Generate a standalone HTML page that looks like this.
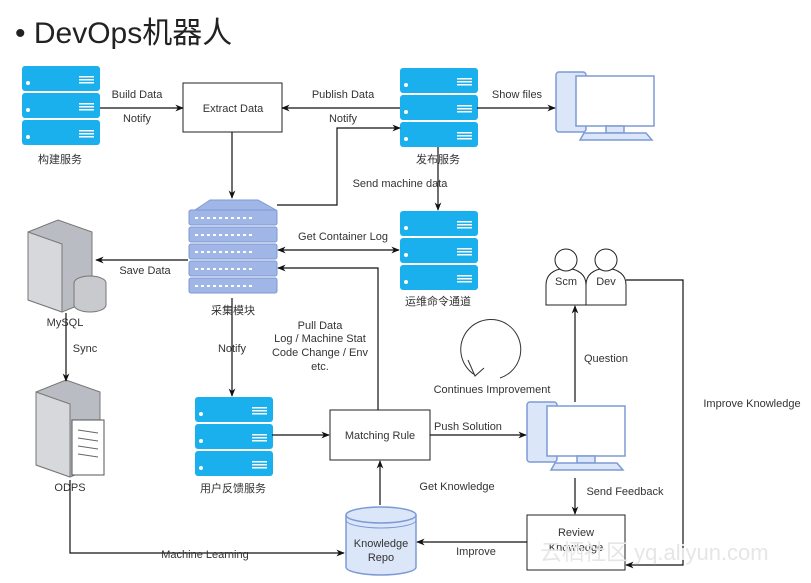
<!DOCTYPE html>
<html><head><meta charset="utf-8"><style>
body{margin:0;background:#fff;width:811px;height:578px;overflow:hidden}
svg text{font-family:"Liberation Sans","Noto Sans CJK SC",sans-serif;font-size:11px;fill:#333}
</style></head><body>
<svg width="811" height="578" viewBox="0 0 811 578" xmlns="http://www.w3.org/2000/svg">
<defs>
<marker id="a" viewBox="0 0 10 10" refX="9" refY="5" markerWidth="7" markerHeight="7" orient="auto-start-reverse"><path d="M0,1 L10,5 L0,9 L3,5z" fill="#111"/></marker>
<g id="srv">
 <rect x="0" y="0" width="78" height="25" rx="3" fill="#1ab0ee"/>
 <rect x="0" y="27" width="78" height="25" rx="3" fill="#1ab0ee"/>
 <rect x="0" y="54" width="78" height="25" rx="3" fill="#1ab0ee"/>
 <g fill="#fff"><circle cx="6" cy="17" r="2"/><circle cx="6" cy="44" r="2"/><circle cx="6" cy="71" r="2"/>
 <rect x="57" y="10" width="15" height="1.5"/><rect x="57" y="13" width="15" height="1.5"/><rect x="57" y="16" width="15" height="1.5"/>
 <rect x="57" y="37" width="15" height="1.5"/><rect x="57" y="40" width="15" height="1.5"/><rect x="57" y="43" width="15" height="1.5"/>
 <rect x="57" y="64" width="15" height="1.5"/><rect x="57" y="67" width="15" height="1.5"/><rect x="57" y="70" width="15" height="1.5"/></g>
</g>
<g id="pc" fill="#dbe6f8" stroke="#7d9ad6" stroke-width="1.5">
 <rect x="0" y="0" width="30" height="60" rx="3"/>
 <rect x="20" y="4" width="78" height="50" fill="#fff"/>
 <rect x="50" y="54" width="18" height="7"/>
 <path d="M28,61 L90,61 L96,68 L24,68z"/>
</g>
</defs>
<text x="15" y="43" style="font-size:30px;fill:#222">• DevOps机器人</text>

<use href="#srv" x="22" y="66"/>
<text x="60" y="163" text-anchor="middle">构建服务</text>
<use href="#srv" x="400" y="68"/>
<text x="438" y="163" text-anchor="middle">发布服务</text>
<use href="#srv" x="400" y="211"/>
<text x="438" y="305" text-anchor="middle">运维命令通道</text>
<use href="#srv" x="195" y="397"/>
<text x="233" y="492" text-anchor="middle">用户反馈服务</text>

<use href="#pc" x="556" y="72"/>
<use href="#pc" x="527" y="402"/>

<!-- rack -->
<g>
<path d="M195,210 L210,200 L258,200 L276,210z" fill="#9fb6e6" stroke="#7d9ad6"/>
<g fill="#9fb6e6" stroke="#7d9ad6">
<rect x="189" y="210" width="88" height="15" rx="2"/><rect x="189" y="227" width="88" height="15" rx="2"/>
<rect x="189" y="244" width="88" height="15" rx="2"/><rect x="189" y="261" width="88" height="15" rx="2"/>
<rect x="189" y="278" width="88" height="15" rx="2"/></g>
<g stroke="#fff" stroke-width="2" stroke-dasharray="3,3"><line x1="195" y1="218" x2="252" y2="218"/><line x1="195" y1="235" x2="252" y2="235"/><line x1="195" y1="252" x2="252" y2="252"/><line x1="195" y1="269" x2="252" y2="269"/><line x1="195" y1="286" x2="252" y2="286"/></g>
</g>
<text x="233" y="314" text-anchor="middle">采集模块</text>

<!-- MySQL -->
<path d="M28,232 L58,220 L92,232 L92,300 L62,312 L28,300z" fill="#b9bcc2" stroke="#777"/>
<path d="M28,232 L62,244 L62,312 L28,300z" fill="#d6d8dc" stroke="#777"/>
<ellipse cx="90" cy="283" rx="16" ry="7" fill="#c8cace" stroke="#777"/>
<path d="M74,283 L74,305 A16,7 0 0 0 106,305 L106,283" fill="#c8cace" stroke="#777"/>
<text x="65" y="326" text-anchor="middle">MySQL</text>
<!-- ODPS -->
<path d="M36,392 L66,380 L100,392 L100,465 L70,477 L36,465z" fill="#b9bcc2" stroke="#777"/>
<path d="M36,392 L70,404 L70,477 L36,465z" fill="#d6d8dc" stroke="#777"/>
<rect x="72" y="420" width="32" height="55" fill="#fff" stroke="#555"/>
<g stroke="#666"><line x1="78" y1="430" x2="98" y2="433"/><line x1="78" y1="438" x2="98" y2="441"/><line x1="78" y1="446" x2="98" y2="449"/><line x1="78" y1="454" x2="98" y2="457"/></g>
<text x="70" y="491" text-anchor="middle">ODPS</text>

<!-- boxes -->
<rect x="183" y="83" width="99" height="49" fill="#fff" stroke="#222"/>
<text x="233" y="112" text-anchor="middle">Extract Data</text>
<rect x="330" y="410" width="100" height="50" fill="#fff" stroke="#222"/>
<text x="380" y="439" text-anchor="middle">Matching Rule</text>
<rect x="527" y="515" width="98" height="55" fill="#fff" stroke="#222"/>
<text x="576" y="536" text-anchor="middle">Review</text>
<text x="576" y="551" text-anchor="middle">Knowledge</text>

<!-- cylinder -->
<path d="M346,515 L346,567 A35,8 0 0 0 416,567 L416,515" fill="#dbe6f8" stroke="#7d9ad6" stroke-width="1.5"/>
<ellipse cx="381" cy="515" rx="35" ry="8" fill="#dbe6f8" stroke="#7d9ad6" stroke-width="1.5"/>
<path d="M346,520 A35,8 0 0 0 416,520" fill="none" stroke="#7d9ad6"/>
<text x="381" y="547" text-anchor="middle">Knowledge</text>
<text x="381" y="561" text-anchor="middle">Repo</text>

<!-- people -->
<g fill="#fff" stroke="#222">
<path d="M546,305 L546,285 Q546,270 566,268 Q586,270 586,285 L586,305z"/>
<circle cx="566" cy="260" r="11"/>
<path d="M586,305 L586,285 Q586,270 606,268 Q626,270 626,285 L626,305z"/>
<circle cx="606" cy="260" r="11"/>
</g>
<text x="566" y="285" text-anchor="middle">Scm</text>
<text x="606" y="285" text-anchor="middle">Dev</text>

<!-- circular arrow -->
<path d="M475,375 A30,30 0 1 1 500,378" fill="none" stroke="#333"/>
<path d="M468,360 L475,376 L484,368" fill="none" stroke="#333"/>

<!-- connectors -->
<g stroke="#111" fill="none" stroke-width="1.2">
<line x1="100" y1="108" x2="183" y2="108" marker-end="url(#a)"/>
<line x1="400" y1="108" x2="282" y2="108" marker-end="url(#a)"/>
<polyline points="277,205 337,205 337,128 400,128" marker-end="url(#a)"/>
<line x1="232" y1="132" x2="232" y2="198" marker-end="url(#a)"/>
<line x1="477" y1="108" x2="555" y2="108" marker-end="url(#a)"/>
<line x1="438" y1="147" x2="438" y2="210" marker-end="url(#a)"/>
<line x1="278" y1="250" x2="399" y2="250" marker-start="url(#a)" marker-end="url(#a)"/>
<polyline points="378,410 378,268 278,268" marker-end="url(#a)"/>
<line x1="188" y1="260" x2="96" y2="260" marker-end="url(#a)"/>
<line x1="232" y1="298" x2="232" y2="396" marker-end="url(#a)"/>
<line x1="66" y1="313" x2="66" y2="381" marker-end="url(#a)"/>
<polyline points="70,480 70,553 344,553" marker-end="url(#a)"/>
<line x1="272" y1="435" x2="329" y2="435" marker-end="url(#a)"/>
<line x1="430" y1="435" x2="526" y2="435" marker-end="url(#a)"/>
<line x1="380" y1="505" x2="380" y2="461" marker-end="url(#a)"/>
<line x1="575" y1="402" x2="575" y2="306" marker-end="url(#a)"/>
<line x1="575" y1="478" x2="575" y2="514" marker-end="url(#a)"/>
<line x1="527" y1="542" x2="417" y2="542" marker-end="url(#a)"/>
<polyline points="626,280 683,280 683,565 626,565" marker-end="url(#a)"/>
</g>

<g text-anchor="middle">
<text x="137" y="98">Build Data</text><text x="137" y="122">Notify</text>
<text x="343" y="98">Publish Data</text><text x="343" y="122">Notify</text>
<text x="517" y="98">Show files</text>
<text x="400" y="187">Send machine data</text>
<text x="343" y="240">Get Container Log</text>
<text x="145" y="274">Save Data</text>
<text x="320" y="329">Pull Data</text>
<text x="320" y="342">Log / Machine Stat</text>
<text x="320" y="356">Code Change / Env</text>
<text x="320" y="370">etc.</text>
<text x="232" y="352">Notify</text>
<text x="85" y="352">Sync</text>
<text x="492" y="393">Continues Improvement</text>
<text x="606" y="362">Question</text>
<text x="752" y="407">Improve Knowledge</text>
<text x="468" y="430">Push Solution</text>
<text x="457" y="490">Get Knowledge</text>
<text x="625" y="495">Send Feedback</text>
<text x="476" y="555">Improve</text>
<text x="205" y="558">Machine Learning</text>
</g>
<text x="540" y="560" style="font-size:22px;fill:#e6e6e6">云栖社区 yq.aliyun.com</text>
</svg>
</body></html>
